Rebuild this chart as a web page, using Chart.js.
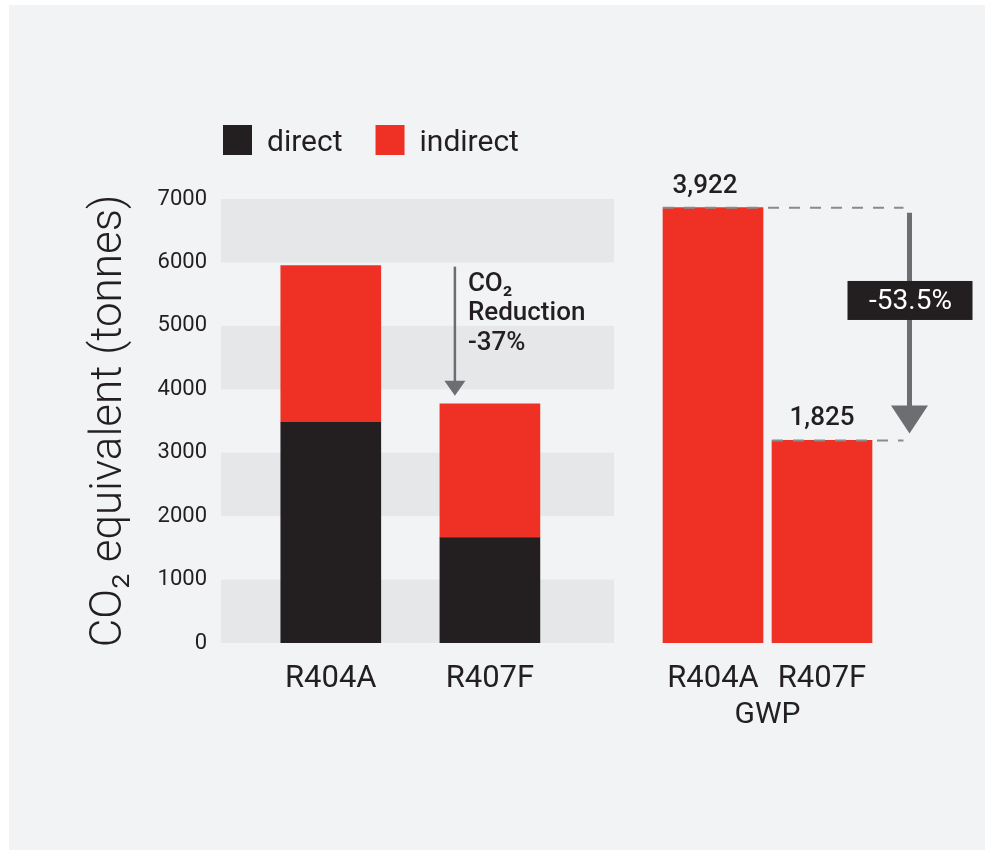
<!DOCTYPE html>
<html>
<head>
<meta charset="utf-8">
<script src="https://cdn.jsdelivr.net/npm/chart.js@4"></script>
<style>
  html, body { margin: 0; padding: 0; background: #ffffff; }
  #panel { position: absolute; left: 9px; top: 5px; width: 976px; height: 845px; background: #f2f3f5; }
  #left { position: absolute; left: 0; top: 0; }
  #right { position: absolute; left: 640px; top: 0; }
</style>
</head>
<body>
<div id="panel"></div>
<canvas id="left" width="640" height="851"></canvas>
<canvas id="right" width="348" height="851"></canvas>
<script>
const refrigerants = ["R404A", "R407F"];
const directValues = [3480, 1660];
const indirectValues = [2470, 2110];
const gwpValues = [3922, 1825];
const yTicks = [0, 1000, 2000, 3000, 4000, 5000, 6000, 7000];

const RED = "#ee3124";
const BLACK = "#231f20";
const ARROW = "#6d6e71";
const FONT = "Roboto, 'Open Sans', sans-serif";

Chart.defaults.font.family = FONT;
Chart.defaults.color = BLACK;

// bars sit on a numeric x axis so they can be placed off-centre in the plot
const asPoints = vals => vals.map((v, i) => ({ x: i, y: v }));

// alternating grey bands + legend + reduction arrow on the left chart
const leftDecor = {
  id: "leftDecor",
  beforeDatasetsDraw(chart) {
    const { ctx, chartArea, scales: { y } } = chart;
    ctx.save();
    ctx.fillStyle = "#e6e7e9";
    for (let i = 0; i < yTicks.length - 1; i += 2) {
      const top = y.getPixelForValue(yTicks[i + 1]);
      const bot = y.getPixelForValue(yTicks[i]);
      ctx.fillRect(chartArea.left, top, chartArea.right - chartArea.left, bot - top);
    }
    ctx.restore();
  },
  afterDatasetsDraw(chart) {
    const { ctx, chartArea } = chart;
    ctx.save();
    // legend
    let x = chartArea.left + 2;
    const ly = 125;
    ctx.font = "400 30px " + FONT;
    ctx.textBaseline = "alphabetic";
    chart.data.datasets.forEach(ds => {
      ctx.fillStyle = ds.backgroundColor;
      ctx.fillRect(x, ly, 29, 30);
      ctx.fillStyle = BLACK;
      ctx.fillText(ds.label, x + 44, ly + 26);
      x += 44 + ctx.measureText(ds.label).width + 33;
    });

    // arrow from first total down to second total
    const meta = chart.getDatasetMeta(1);
    const b0 = meta.data[0], b1 = meta.data[1];
    const ax = b1.x - b1.width / 2 + 15;
    const yTop = b0.y + 1;
    const yTip = b1.y - 8;
    ctx.strokeStyle = ARROW;
    ctx.lineWidth = 2.5;
    ctx.beginPath();
    ctx.moveTo(ax, yTop);
    ctx.lineTo(ax, yTip - 14);
    ctx.stroke();
    ctx.fillStyle = ARROW;
    ctx.beginPath();
    ctx.moveTo(ax - 10.5, yTip - 15);
    ctx.lineTo(ax + 10.5, yTip - 15);
    ctx.lineTo(ax, yTip);
    ctx.closePath();
    ctx.fill();

    const t0 = directValues[0] + indirectValues[0];
    const t1 = directValues[1] + indirectValues[1];
    const pct = Math.round((1 - t1 / t0) * 100);
    ctx.fillStyle = BLACK;
    ctx.font = "500 26px " + FONT;
    ctx.fillText("CO\u2082", ax + 13, yTop + 24);
    ctx.fillText("Reduction", ax + 13, yTop + 53);
    ctx.fillText("-" + pct + "%", ax + 13, yTop + 83);
    ctx.restore();
  }
};

new Chart(document.getElementById("left"), {
  type: "bar",
  data: {
    datasets: [
      { label: "direct", data: asPoints(directValues), backgroundColor: BLACK },
      { label: "indirect", data: asPoints(indirectValues), backgroundColor: RED }
    ]
  },
  options: {
    responsive: false,
    animation: false,
    layout: { padding: { top: 199, left: 0, right: 26, bottom: 0 } },
    plugins: { legend: { display: false }, tooltip: { enabled: false } },
    datasets: { bar: { barThickness: 100 } },
    scales: {
      x: {
        type: "linear",
        stacked: true,
        offset: false,
        min: -0.69,
        max: 1.78,
        afterBuildTicks(scale) { scale.ticks = refrigerants.map((_, i) => ({ value: i })); },
        grid: { display: false, drawTicks: false },
        border: { display: false },
        ticks: { padding: 18, font: { size: 31 }, color: BLACK, callback: v => refrigerants[v] },
        afterFit(scale) { scale.height = 208; }
      },
      y: {
        stacked: true,
        min: 0,
        max: 7000,
        afterBuildTicks(scale) { scale.ticks = yTicks.map(v => ({ value: v })); },
        grid: { display: false, drawTicks: false },
        border: { display: false },
        ticks: { padding: 14, font: { size: 22 }, color: BLACK, callback: v => String(v) },
        title: {
          display: true,
          text: "CO\u2082 equivalent (tonnes)",
          font: { size: 44, weight: "300" },
          color: BLACK,
          padding: { top: 84, bottom: 0 }
        },
        afterFit(scale) { scale.width = 221; }
      }
    }
  },
  plugins: [leftDecor]
});

// value labels, dashed guides and percent arrow on the GWP chart
const rightDecor = {
  id: "rightDecor",
  afterDatasetsDraw(chart) {
    const { ctx, chartArea } = chart;
    const bars = chart.getDatasetMeta(0).data;
    ctx.save();
    ctx.fillStyle = BLACK;
    ctx.font = "500 26px " + FONT;
    ctx.textAlign = "center";
    ctx.textBaseline = "alphabetic";
    bars.forEach((b, i) => {
      ctx.fillText(gwpValues[i].toLocaleString("en-US"), b.x - (i === 0 ? 8 : 0), b.y - 15);
    });

    const ax = chartArea.right + 33;
    ctx.strokeStyle = "#8a8b8d";
    ctx.lineWidth = 2;
    ctx.setLineDash([11, 10]);
    bars.forEach(b => {
      ctx.beginPath();
      ctx.moveTo(b.x - b.width / 2, b.y);
      ctx.lineTo(ax - 6, b.y);
      ctx.stroke();
    });
    ctx.setLineDash([]);

    const yTop = bars[0].y + 5;
    const yTip = bars[1].y - 7;
    ctx.strokeStyle = ARROW;
    ctx.lineWidth = 5;
    ctx.beginPath();
    ctx.moveTo(ax, yTop);
    ctx.lineTo(ax, yTip - 26);
    ctx.stroke();
    ctx.fillStyle = ARROW;
    ctx.beginPath();
    ctx.moveTo(ax - 18.5, yTip - 28);
    ctx.lineTo(ax + 18.5, yTip - 28);
    ctx.lineTo(ax, yTip);
    ctx.closePath();
    ctx.fill();

    const pct = ((1 - gwpValues[1] / gwpValues[0]) * 100).toFixed(1);
    const boxY = yTop + (yTip - yTop) * 0.4;
    ctx.fillStyle = BLACK;
    ctx.fillRect(ax - 62, boxY - 20, 125, 39);
    ctx.fillStyle = "#ffffff";
    ctx.font = "400 28px " + FONT;
    ctx.textBaseline = "middle";
    ctx.fillText("-" + pct + "%", ax + 1, boxY + 1);
    ctx.restore();
  }
};

new Chart(document.getElementById("right"), {
  type: "bar",
  data: {
    labels: refrigerants,
    datasets: [{ label: "GWP", data: gwpValues, backgroundColor: RED }]
  },
  options: {
    responsive: false,
    animation: false,
    layout: { padding: { top: 199, left: 18.5, right: 111.5, bottom: 0 } },
    plugins: { legend: { display: false }, tooltip: { enabled: false } },
    datasets: { bar: { barThickness: 100 } },
    scales: {
      x: {
        grid: { display: false, drawTicks: false },
        border: { display: false },
        ticks: { padding: 18, font: { size: 31 }, color: BLACK },
        title: {
          display: true,
          text: "GWP",
          font: { size: 30 },
          color: BLACK,
          padding: { top: 0, bottom: 118 }
        },
        afterFit(scale) { scale.height = 208; }
      },
      y: { display: false, min: 0, max: 4000 }
    }
  },
  plugins: [rightDecor]
});
</script>
</body>
</html>
